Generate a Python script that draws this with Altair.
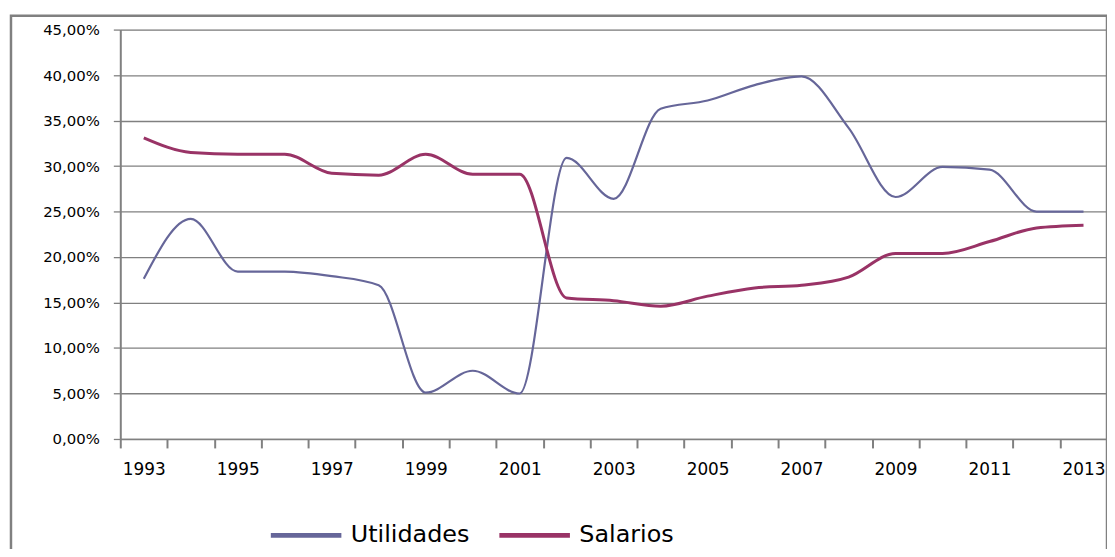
import altair as alt
import pandas as pd

years = list(range(1993, 2014))
utilidades = [17.6, 24.2, 18.4, 18.4, 17.9, 16.9, 5.1, 7.5, 5.0, 30.9, 26.4,
              36.3, 37.2, 38.9, 39.85, 34.2, 26.6, 29.9, 29.6, 25.0, 25.0]
salarios = [33.1, 31.5, 31.3, 31.3, 29.2, 29.0, 31.3, 29.1, 29.1, 15.5, 15.2,
            14.6, 15.7, 16.6, 16.9, 17.8, 20.4, 20.4, 21.7, 23.2, 23.5]
series_names = ["Utilidades", "Salarios"]
series_colors = ["#666699", "#993366"]
series_widths = [2.2, 3]
y_ticks = [0, 0.05, 0.10, 0.15, 0.20, 0.25, 0.30, 0.35, 0.40, 0.45]

rows = []
for y, u, s in zip(years, utilidades, salarios):
    rows.append({"year": y, "serie": "Utilidades", "value": u / 100})
    rows.append({"year": y, "serie": "Salarios", "value": s / 100})
df = pd.DataFrame(rows)

FONT = "DejaVu Sans"
GRAY = "#808080"

x_enc = alt.X(
    "year:O",
    title=None,
    bandPosition=0.5,
    scale=alt.Scale(type="band", paddingInner=0, paddingOuter=0),
    axis=alt.Axis(
        labelAngle=0,
        labelExpr="toNumber(datum.value) % 2 == 1 ? datum.label : ''",
        labelOverlap=False,
        tickBand="extent",
        tickSize=9,
        tickColor=GRAY,
        tickWidth=2,
        domainColor=GRAY,
        domainWidth=1.5,
        labelPadding=14,
        labelFont=FONT,
        labelFontSize=17,
        labelColor="#000000",
        grid=False,
    ),
)
y_enc = alt.Y(
    "value:Q",
    title=None,
    scale=alt.Scale(domain=[0, 0.45], nice=False),
    axis=alt.Axis(
        values=y_ticks,
        labelExpr="replace(format(datum.value, '.2%'), '.', ',')",
        grid=True,
        gridColor=GRAY,
        gridWidth=1.3,
        tickColor=GRAY,
        tickSize=7,
        tickWidth=1.3,
        domainColor=GRAY,
        domainWidth=2,
        labelPadding=14,
        labelFont=FONT,
        labelFontSize=15,
        labelColor="#000000",
    ),
)
color_enc = alt.Color(
    "serie:N",
    scale=alt.Scale(domain=series_names, range=series_colors),
    sort=series_names,
    legend=alt.Legend(
        title=None,
        orient="none",
        direction="horizontal",
        legendX=149,
        legendY=471,
        symbolType="stroke",
        symbolSize=5041,
        symbolStrokeWidth=5,
        labelFont=FONT,
        labelFontSize=24,
        labelColor="#000000",
        labelOffset=7,
        columnPadding=19,
    ),
)

layers = []
for name, w in zip(series_names, series_widths):
    layers.append(
        alt.Chart(df)
        .transform_filter(alt.datum.serie == name)
        .mark_line(interpolate="monotone", strokeWidth=w)
        .encode(x=x_enc, y=y_enc, color=color_enc)
    )

frame = alt.Chart(pd.DataFrame({"a": [0]})).mark_rect(
    filled=False, stroke=GRAY, strokeWidth=2.5
).encode(
    x=alt.value(-110), x2=alt.value(993), y=alt.value(-14), y2=alt.value(600)
)

chart = alt.layer(*layers, frame).properties(
    width=993,
    height=412,
    autosize=alt.AutoSizeParams(type="none"),
    padding={"left": 113, "top": 20, "right": 0, "bottom": 109},
).configure_view(stroke=None).configure(background="white")

chart.save("out.html", embed_options={"renderer": "svg", "actions": False})
